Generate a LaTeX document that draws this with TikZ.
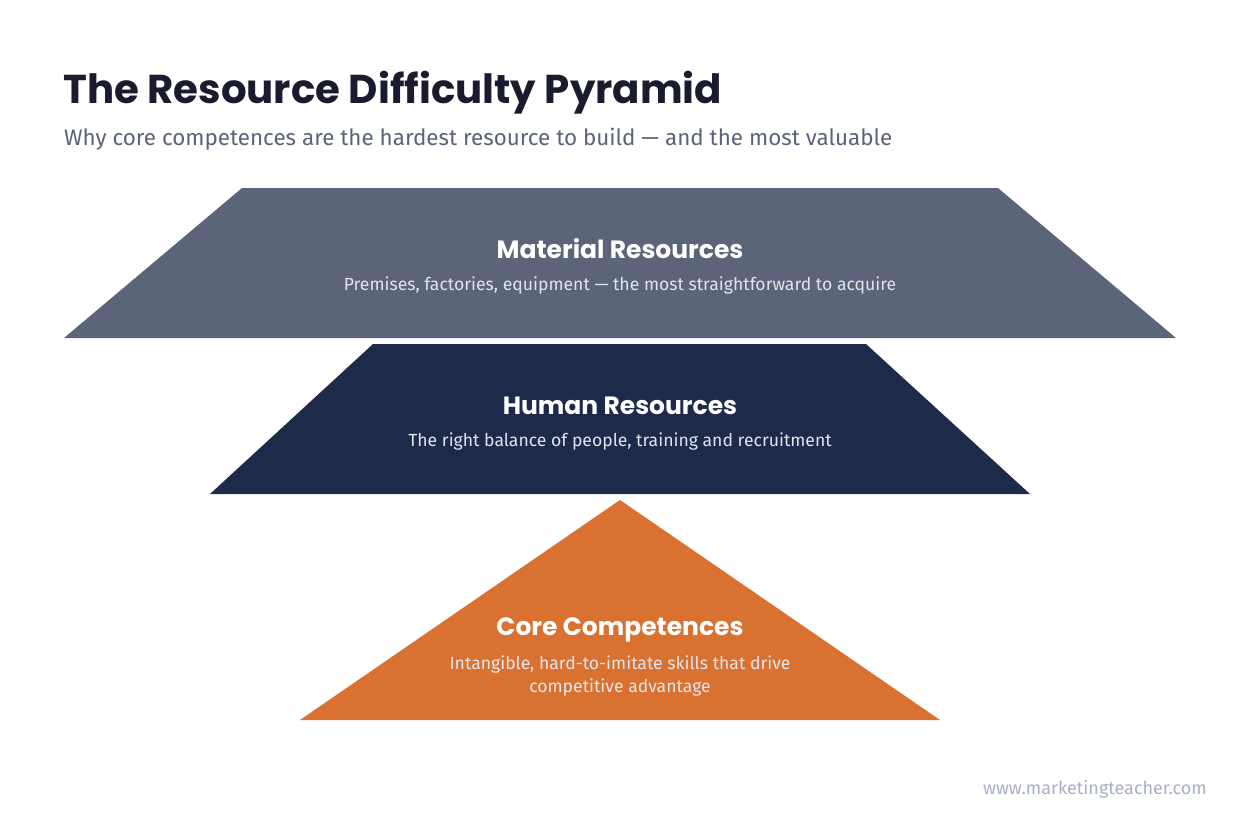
\documentclass[tikz,border=0pt]{standalone}
\usepackage{fontspec}
\setmainfont{Fira Sans}
\newfontfamily\headfont{Poppins}
\definecolor{slateT}{HTML}{5B6478}
\definecolor{navyT}{HTML}{1E2A4A}
\definecolor{orangeT}{HTML}{D97230}
\definecolor{titleC}{HTML}{1A1B2E}
\definecolor{subC}{HTML}{5B6478}
\definecolor{descC}{HTML}{E2E5EE}
\definecolor{urlC}{HTML}{A9B0C4}
\tikzset{
  tier/.style={inner sep=0pt, text=white, font=\headfont\bfseries\fontsize{25}{30}\selectfont, anchor=base},
  desc/.style={inner sep=0pt, text=descC, font=\fontsize{17.6}{23}\selectfont, anchor=base},
}
\begin{document}
\begin{tikzpicture}[x=1pt,y=-1pt]
\useasboundingbox (0,0) rectangle (1240,820);
\fill[white] (0,0) rectangle (1240,820);
% shapes
\fill[slateT] (242,188) -- (998,188) -- (1176,338) -- (64,338) -- cycle;
\fill[navyT] (373,344) -- (866,344) -- (1030,494) -- (210,494) -- cycle;
\fill[orangeT] (620,500) -- (940,720) -- (300,720) -- cycle;
% title
\node[inner sep=0pt, anchor=base west, text=titleC, font=\headfont\bfseries\fontsize{40.3}{46}\selectfont] (title) at (63,103) {The Resource Difficulty Pyramid};
\node[inner sep=0pt, anchor=base west, text=subC, font=\fontsize{22.4}{26}\selectfont] (subtitle) at (64,145) {Why core competences are the hardest resource to build — and the most valuable};
% tiers
\node[tier] (t1) at (620,258) {Material Resources};
\node[desc] (d1) at (620,290) {Premises, factories, equipment — the most straightforward to acquire};
\node[tier] (t2) at (620,414) {Human Resources};
\node[desc] (d2) at (620,446) {The right balance of people, training and recruitment};
\node[tier] (t3) at (620,635) {Core Competences};
\node[desc] (d3) at (620,669) {Intangible, hard-to-imitate skills that drive};
\node[desc] (d3b) at (620,692) {competitive advantage};
% url
\node[inner sep=0pt, anchor=base east, text=urlC, font=\fontsize{18}{20}\selectfont] (url) at (1207,794) {www.marketingteacher.com};
\end{tikzpicture}
\end{document}
